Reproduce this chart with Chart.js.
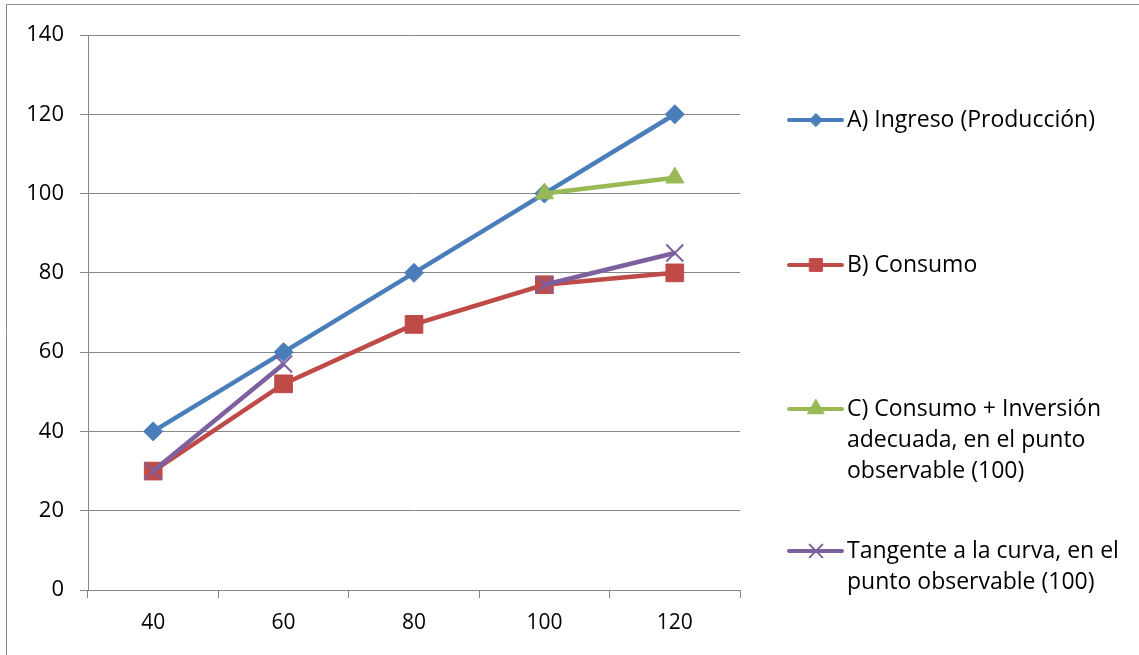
<!DOCTYPE html>
<html>
<head>
<meta charset="utf-8">
<script src="https://cdn.jsdelivr.net/npm/chart.js@4"></script>
<style>
    html, body { margin: 0; padding: 0; background: #fff; }
    #wrap { width: 1139px; height: 655px; position: relative; }
</style>
</head>
<body>
<div id="wrap"><canvas id="chart" width="1139" height="655"></canvas></div>
<script>
// --- Data ---
const categories = ['40', '60', '80', '100', '120'];
const ingreso = [40, 60, 80, 100, 120];
const consumo = [30, 52, 67, 77, 80];
const consumoInversion = [null, null, null, 100, 104];
const tangente = [30, 57, null, 77, 85];
const yTickValues = [0, 20, 40, 60, 80, 100, 120, 140];

// legend labels, already wrapped the way the picture shows them
const legendLabels = [
    ['A) Ingreso (Producción)'],
    ['B) Consumo'],
    ['C) Consumo + Inversión', 'adecuada, en el punto', 'observable (100)'],
    ['Tangente a la curva, en el', 'punto observable (100)']
];

const gridGray = '#868686';
const fontFamily = "'Open Sans', 'Noto Sans', sans-serif";

// Legend drawn by hand, to the right of the plot (multi-line labels)
const sideLegend = {
    id: 'sideLegend',
    afterDraw(chart) {
        const ctx = chart.ctx;
        const rowsY = [120, 265, 409, 551];
        const lineGap = 31;
        const legendMarkers = [6.5, 9, 9.5, 9];
        ctx.save();
        chart.data.datasets.forEach((ds, i) => {
            const y = rowsY[i];
            ctx.strokeStyle = ds.borderColor;
            ctx.lineWidth = 4;
            ctx.lineCap = 'round';
            ctx.beginPath();
            ctx.moveTo(789, y);
            ctx.lineTo(842, y);
            ctx.stroke();
            ctx.fillStyle = ds.pointBackgroundColor;
            ctx.strokeStyle = ds.pointBorderColor;
            ctx.lineWidth = ds.pointBorderWidth;
            Chart.helpers.drawPoint(ctx, {
                pointStyle: ds.pointStyle,
                radius: legendMarkers[i],
                rotation: 0,
                borderWidth: ds.pointBorderWidth
            }, 816, y);
            ctx.fillStyle = '#000';
            ctx.font = '23px ' + fontFamily;
            ctx.textBaseline = 'middle';
            ctx.textAlign = 'left';
            legendLabels[i].forEach((line, j) => {
                ctx.fillText(line, 847, y + j * lineGap);
            });
        });
        ctx.restore();
    }
};

// Outer frame: only left and top edges are inside the picture
const frame = {
    id: 'frame',
    afterDraw(chart) {
        const ctx = chart.ctx;
        ctx.save();
        ctx.strokeStyle = '#8a8a8a';
        ctx.lineWidth = 1;
        ctx.beginPath();
        ctx.moveTo(6.5, 655);
        ctx.lineTo(6.5, 4.5);
        ctx.lineTo(1139, 4.5);
        ctx.stroke();
        ctx.restore();
    }
};

const ctx = document.getElementById('chart').getContext('2d');
new Chart(ctx, {
    type: 'line',
    data: {
        labels: categories,
        datasets: [
            {
                label: legendLabels[0].join(' '),
                data: ingreso,
                order: 4,
                borderColor: '#4A7EBB',
                pointBackgroundColor: '#4A7EBB',
                pointBorderColor: '#4A7EBB',
                pointBorderWidth: 1,
                pointStyle: 'rectRot',
                pointRadius: 9.5,
                borderWidth: 4.5
            },
            {
                label: legendLabels[1].join(' '),
                data: consumo,
                order: 3,
                borderColor: '#BE4B48',
                pointBackgroundColor: '#BE4B48',
                pointBorderColor: '#BE4B48',
                pointBorderWidth: 1,
                pointStyle: 'rect',
                pointRadius: 12.5,
                borderWidth: 4.5
            },
            {
                label: legendLabels[2].join(' '),
                data: consumoInversion,
                order: 2,
                borderColor: '#98B954',
                pointBackgroundColor: '#98B954',
                pointBorderColor: '#98B954',
                pointBorderWidth: 1,
                pointStyle: 'triangle',
                pointRadius: 10.5,
                borderWidth: 4.5
            },
            {
                label: legendLabels[3].join(' '),
                data: tangente,
                order: 1,
                borderColor: '#7D60A0',
                pointBackgroundColor: '#7D60A0',
                pointBorderColor: '#7D60A0',
                pointBorderWidth: 2,
                pointStyle: 'crossRot',
                pointRadius: 12,
                borderWidth: 4.5
            }
        ]
    },
    options: {
        responsive: false,
        animation: false,
        devicePixelRatio: 1,
        spanGaps: false,
        layout: { padding: { left: 0, top: 35, right: 399, bottom: 0 } },
        plugins: {
            legend: { display: false },
            tooltip: { enabled: false }
        },
        scales: {
            x: {
                offset: true,
                grid: {
                    offset: true,
                    drawOnChartArea: false,
                    color: gridGray,
                    tickLength: 8
                },
                border: { color: gridGray },
                ticks: { color: '#000', font: { family: fontFamily, size: 21 }, padding: 12 },
                afterFit(scale) { scale.height = 65; }
            },
            y: {
                min: 0,
                max: 140,
                afterBuildTicks(scale) {
                    scale.ticks = yTickValues.map(v => ({ value: v }));
                },
                grid: { color: gridGray, tickLength: 8 },
                border: { color: gridGray },
                ticks: { color: '#000', font: { family: fontFamily, size: 22 }, padding: 16 },
                afterFit(scale) { scale.width = 88; }
            }
        }
    },
    plugins: [sideLegend, frame]
});
</script>
</body>
</html>
